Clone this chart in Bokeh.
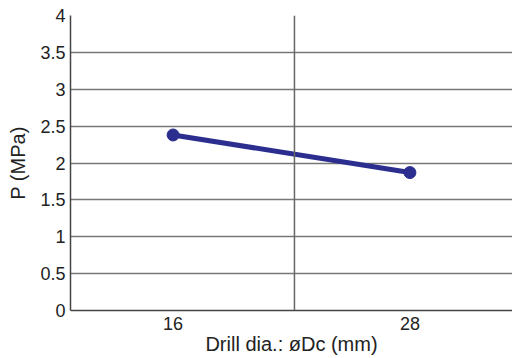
from bokeh.plotting import figure
from bokeh.models import Range1d, FixedTicker, Span
from bokeh.embed import file_html
from bokeh.resources import INLINE

drill_dia = [16, 28]
pressure = [2.38, 1.87]
x_ticks = [16, 28]
y_ticks = [0, 0.5, 1, 1.5, 2, 2.5, 3, 3.5, 4]
divider_x = 22.15

FONT = "Liberation Sans"

p = figure(width=512, height=358, output_backend="svg", toolbar_location=None,
           x_range=Range1d(10.8, 33.2), y_range=Range1d(0, 4),
           min_border_left=70, min_border_right=0, min_border_top=15, min_border_bottom=48)
p.outline_line_color = None
p.background_fill_color = "white"

p.line(drill_dia, pressure, line_color="#2b2e8f", line_width=5)
p.scatter(drill_dia, pressure, size=12, fill_color="#2b2e8f", line_color="#2b2e8f")

p.xaxis.ticker = FixedTicker(ticks=x_ticks)
p.yaxis.ticker = FixedTicker(ticks=y_ticks)
p.yaxis.major_label_overrides = {0: "0", 1: "1", 2: "2", 3: "3", 4: "4"}

for ax in (p.xaxis[0], p.yaxis[0]):
    ax.major_tick_line_color = None
    ax.minor_tick_line_color = None
    ax.major_tick_out = 0
    ax.major_tick_in = 0
    ax.minor_tick_out = 0
    ax.minor_tick_in = 0
    ax.axis_line_color = "#444444"
    ax.axis_line_width = 1.5
    ax.major_label_text_font = FONT
    ax.major_label_text_font_size = "18px"
    ax.major_label_text_color = "#222222"
    ax.axis_label_text_font = FONT
    ax.axis_label_text_font_size = "20px"
    ax.axis_label_text_font_style = "normal"
    ax.axis_label_text_color = "#222222"

p.xaxis.axis_label = "Drill dia.: øDc (mm)"
p.yaxis.axis_label = "P (MPa)"
p.xaxis.major_label_standoff = 6
p.yaxis.major_label_standoff = 5
p.xaxis.axis_label_standoff = 0
p.yaxis.axis_label_standoff = 8

p.xgrid.grid_line_color = None
p.ygrid.grid_line_color = "#777777"
p.ygrid.grid_line_width = 1.5

p.add_layout(Span(location=divider_x, dimension="height", line_color="#666666", line_width=1.5))

open("out.html", "w").write(file_html(p, INLINE))
